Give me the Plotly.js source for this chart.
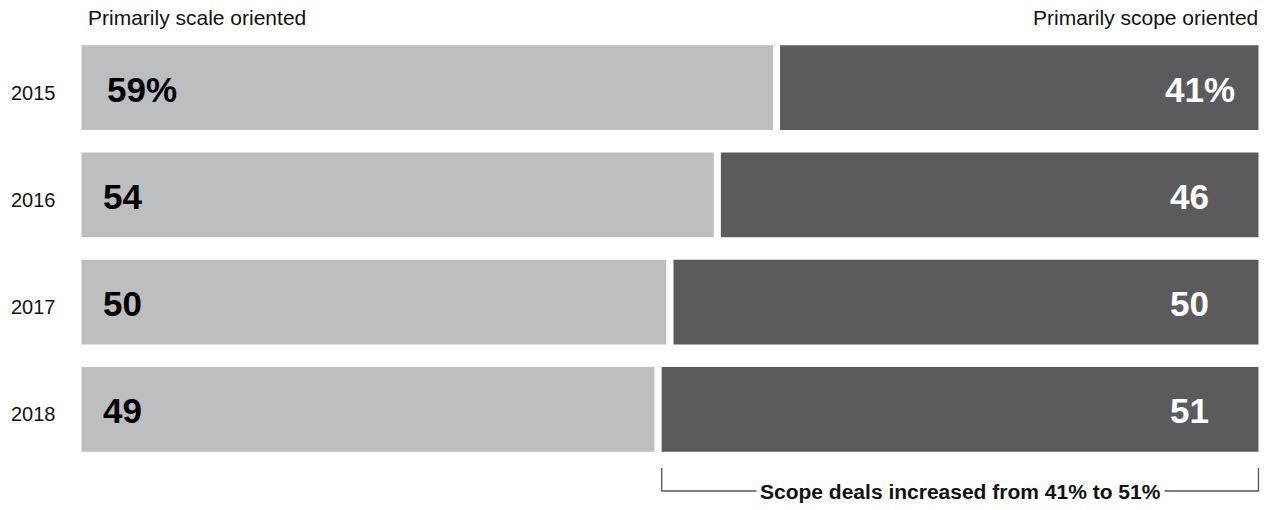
<!DOCTYPE html>
<html>
<head>
<meta charset="utf-8">
<script src="https://cdn.plot.ly/plotly-3.0.1.min.js"></script>
<style>
  html, body { margin: 0; padding: 0; background: #ffffff; }
  #chart { width: 1270px; height: 510px; }
</style>
</head>
<body>
<div id="chart"></div>
<script>
// Share of deals by orientation, per year (percent)
const years = ['2015', '2016', '2017', '2018'];
const scaleShare = [59, 54, 50, 49];
const scopeShare = [41, 46, 50, 51];
const scaleLabels = ['59%', '54', '50', '49'];
const scopeLabels = ['41%', '46', '50', '51'];
const leftHeader = 'Primarily scale oriented';
const rightHeader = 'Primarily scope oriented';
const bracketText = 'Scope deals increased from 41% to 51%';

const FONT = 'Liberation Sans, Arial, Helvetica, sans-serif';
const LIGHT = '#bdbec0';
const DARK = '#5b5b5d';

// one row per year, first year on top
const rows = years.map((_, i) => i);

const traces = [
  {
    type: 'bar', orientation: 'h', name: leftHeader,
    y: rows, x: scaleShare,
    marker: { color: LIGHT, line: { color: '#ffffff', width: 7 } },
    hoverinfo: 'skip'
  },
  {
    type: 'bar', orientation: 'h', name: rightHeader,
    y: rows, x: scopeShare, base: scaleShare,
    marker: { color: DARK, line: { color: '#ffffff', width: 7 } },
    hoverinfo: 'skip'
  }
];

const annotations = [];
rows.forEach((r, i) => {
  // year label left of the bar
  annotations.push({
    xref: 'paper', yref: 'y', x: 0, y: r,
    xanchor: 'right', yanchor: 'middle',
    xshift: -20, yshift: -5,
    text: years[i], showarrow: false,
    font: { family: FONT, size: 20, color: '#111111' }
  });
  // value labels inside each segment
  annotations.push({
    xref: 'x', yref: 'y', x: 0, y: r,
    xanchor: 'left', yanchor: 'middle',
    xshift: scaleLabels[i].includes('%') ? 27 : 23,
    yshift: -1.5,
    text: '<b>' + scaleLabels[i] + '</b>', showarrow: false,
    font: { family: FONT, size: 35, color: '#000000' }
  });
  annotations.push({
    xref: 'x', yref: 'y', x: scaleShare[i] + scopeShare[i], y: r,
    xanchor: 'right', yanchor: 'middle',
    xshift: scopeLabels[i].includes('%') ? -25 : -51,
    yshift: -1.5,
    text: '<b>' + scopeLabels[i] + '</b>', showarrow: false,
    font: { family: FONT, size: 35, color: '#ffffff' }
  });
});

// column headers
annotations.push({
  xref: 'paper', yref: 'paper', x: 0.0068, y: 1.039,
  xanchor: 'left', yanchor: 'middle', showarrow: false,
  text: leftHeader, font: { family: FONT, size: 21, color: '#111111' }
});
annotations.push({
  xref: 'paper', yref: 'paper', x: 0.9985, y: 1.039,
  xanchor: 'right', yanchor: 'middle', showarrow: false,
  text: rightHeader, font: { family: FONT, size: 21, color: '#111111' }
});

// bracket under the scope segment of the last year
const inset = 0.3;
const last = years.length - 1;
const bx0 = scaleShare[last] + inset;
const bx1 = scaleShare[last] + scopeShare[last] - inset;
const yTop = -0.0117, yBot = -0.0653;
const shapes = [{
  type: 'path', xref: 'x', yref: 'paper',
  path: `M ${bx0},${yTop} L ${bx0},${yBot} L ${bx1},${yBot} L ${bx1},${yTop}`,
  line: { color: '#555555', width: 1.3 }
}];
annotations.push({
  xref: 'x', yref: 'paper', x: (bx0 + bx1) / 2, y: yBot,
  xanchor: 'center', yanchor: 'middle', showarrow: false,
  text: '<b>' + bracketText + '</b>', bgcolor: '#ffffff', borderpad: 3,
  font: { family: FONT, size: 21, color: '#111111' }
});

const layout = {
  width: 1270, height: 510,
  margin: { l: 78, r: 8, t: 34, b: 47 },
  paper_bgcolor: '#ffffff', plot_bgcolor: '#ffffff',
  barmode: 'overlay', bargap: 0.143,
  showlegend: false,
  xaxis: { range: [0, 100], visible: false, fixedrange: true },
  yaxis: {
    range: [years.length - 0.5, -0.5],
    showticklabels: false,
    showgrid: false, zeroline: false, showline: false, ticks: '',
    fixedrange: true
  },
  annotations: annotations,
  shapes: shapes,
  font: { family: FONT }
};

Plotly.newPlot('chart', traces, layout, { displayModeBar: false, staticPlot: true });
</script>
</body>
</html>
